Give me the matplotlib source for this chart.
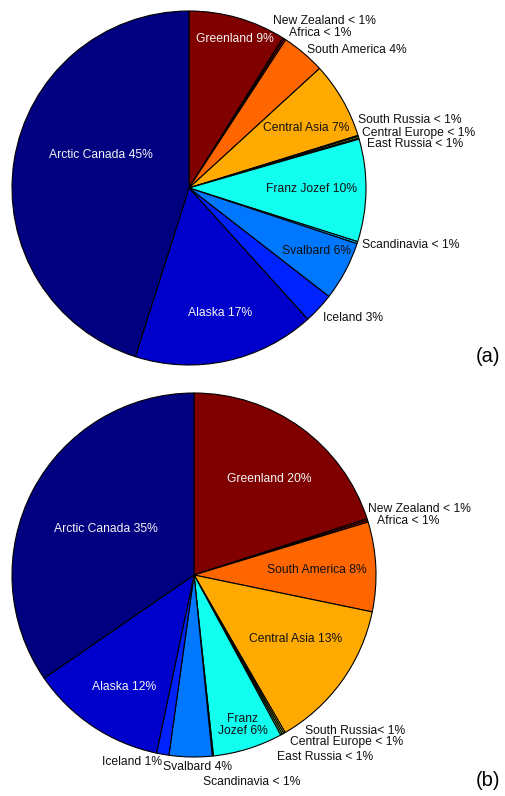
import matplotlib
matplotlib.use("Agg")
import matplotlib.pyplot as plt

W_PX, H_PX = 505, 796

# slice order, clockwise from 12 o'clock
REGIONS = ["Greenland", "New Zealand", "Africa", "South America",
           "Central Asia", "South Russia", "Central Europe", "East Russia",
           "Franz Jozef", "Scandinavia", "Svalbard", "Iceland", "Alaska",
           "Arctic Canada"]

# percentages
SHARE_A = [8.9, 0.15, 0.15, 4.0, 7.0, 0.1, 0.15, 0.1,
           9.35, 0.2, 5.4, 2.8, 16.6, 45.1]
SHARE_B = [20.0, 0.15, 0.15, 7.95, 13.4, 0.15, 0.15, 0.15,
           6.2, 0.1, 3.8, 1.1, 12.1, 34.6]

LABELS_A = ["Greenland 9%", "New Zealand < 1%", "Africa < 1%",
            "South America 4%", "Central Asia 7%", "South Russia < 1%",
            "Central Europe < 1%", "East Russia < 1%", "Franz Jozef 10%",
            "Scandinavia < 1%", "Svalbard 6%", "Iceland 3%", "Alaska 17%",
            "Arctic Canada 45%"]
LABELS_B = ["Greenland 20%", "New Zealand < 1%", "Africa < 1%",
            "South America 8%", "Central Asia 13%", "South Russia< 1%",
            "Central Europe < 1%", "East Russia < 1%", "Franz\nJozef 6%",
            "Scandinavia < 1%", "Svalbard 4%", "Iceland 1%", "Alaska 12%",
            "Arctic Canada 35%"]

# jet-like colours, one per region
COLORS = ["#800000", "#d00000", "#ff2000", "#ff6600", "#ffaa00",
          "#ffee00", "#bbff44", "#66ff99", "#10ffee", "#00bbff",
          "#0077ff", "#0022ff", "#0000cc", "#000080"]
WHITE_TEXT = {"Greenland", "Alaska", "Arctic Canada"}

# label anchor (left x, centre y) in pixels; multi-line ones are centred
POS_A = [(196, 39), (273, 21), (289, 33), (307, 50), (263, 128),
         (358, 120), (362, 133), (367, 144), (266, 189), (362, 245),
         (282, 251), (323, 318), (188, 313), (49, 155)]
POS_B = [(227, 479), (368, 509), (377, 521), (267, 570), (249, 639),
         (305, 731), (290, 742), (277, 757), (243, 725), (203, 782),
         (163, 767), (102, 762), (92, 687), (54, 529)]

plt.rcParams["font.family"] = ["Liberation Sans", "DejaVu Sans"]

fig = plt.figure(figsize=(W_PX / 100, H_PX / 100), dpi=100)
ax = fig.add_axes([0, 0, 1, 1])


def py(y):
    return H_PX - y


def draw_pie(shares, labels, pos, center, radius, tag, tag_pos):
    ax.pie(shares, colors=COLORS, startangle=90, counterclock=False,
           radius=radius, center=(center[0], py(center[1])), normalize=True,
           wedgeprops=dict(edgecolor="black", linewidth=0.8))
    for name, lab, (x, y) in zip(REGIONS, labels, pos):
        col = "#f4f4f4" if name in WHITE_TEXT else "#111111"
        if "\n" in lab:
            ax.text(x, py(y), lab, ha="center", va="center",
                    fontsize=8.7, color=col, linespacing=1.05)
        else:
            ax.text(x, py(y), lab, ha="left", va="center",
                    fontsize=8.7, color=col)
    ax.text(tag_pos[0], py(tag_pos[1]), tag, ha="left", va="center",
            fontsize=14.5)


draw_pie(SHARE_A, LABELS_A, POS_A, (189, 188), 177, "(a)", (476, 357))
draw_pie(SHARE_B, LABELS_B, POS_B, (194, 575), 182, "(b)", (476, 781))

ax.set_xlim(0, W_PX)
ax.set_ylim(0, H_PX)
ax.set_aspect("equal")
ax.axis("off")

fig.savefig("out.png", dpi=100)
